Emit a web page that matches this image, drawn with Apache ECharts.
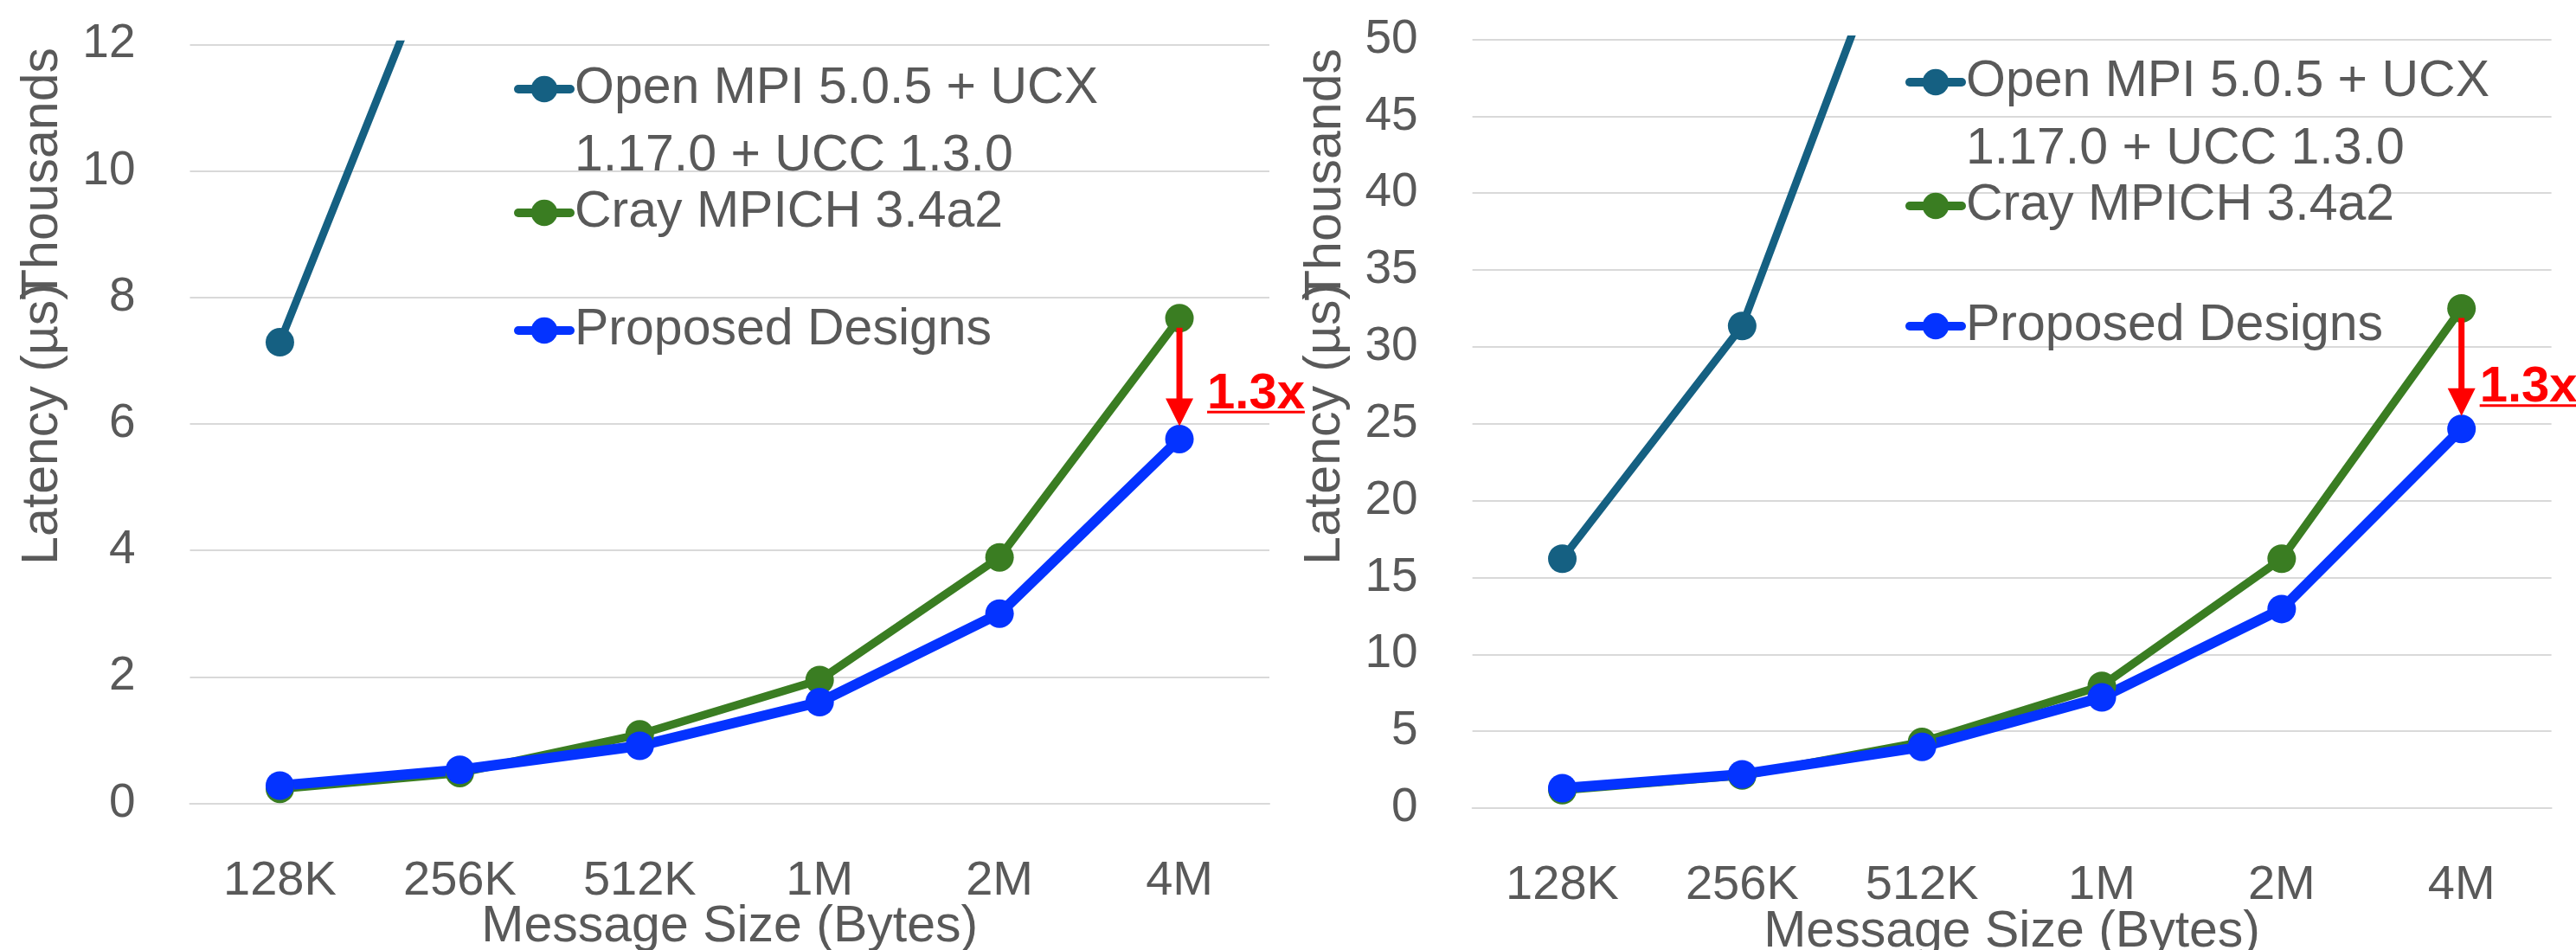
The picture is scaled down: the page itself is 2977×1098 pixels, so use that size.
<!DOCTYPE html>
<html>
<head>
<meta charset="utf-8">
<script src="https://cdn.jsdelivr.net/npm/echarts@6/dist/echarts.min.js"></script>
<style>
  html, body { margin: 0; padding: 0; background: #ffffff; }
  #chart { width: 2977px; height: 1098px; }
</style>
</head>
<body>
<div id="chart"></div>
<script>
// ---- data (latency in thousands of microseconds) ----
const sizes = ['128K', '256K', '512K', '1M', '2M', '4M'];
const nameOpen = 'Open MPI 5.0.5 + UCX\n1.17.0 + UCC 1.3.0';
const nameCray = 'Cray MPICH 3.4a2';
const nameProp = 'Proposed Designs';

// left panel
const openA = [7.29, 14.4, null, null, null, null];
const crayA = [0.23, 0.48, 1.09, 1.95, 3.89, 7.67];
const propA = [0.28, 0.53, 0.91, 1.60, 3.00, 5.76];
const yMaxA = 12, yStepA = 2;

// right panel
const openB = [16.22, 31.36, 62.4, null, null, null];
const crayB = [1.17, 2.12, 4.30, 7.95, 16.22, 32.5];
const propB = [1.30, 2.20, 3.98, 7.20, 12.95, 24.66];
const yMaxB = 50, yStepB = 5;

// ---- styling ----
const FONT = '"Liberation Sans", Arial, sans-serif';
const TEXT = '#595959';
const GRID = '#d9d9d9';
const C_OPEN = '#156082';
const C_CRAY = '#3a7d22';
const C_PROP = '#0433ff';
const RED = '#ff0000';

const measureCtx = document.createElement('canvas').getContext('2d');
function textWidth(str, font) {
  measureCtx.font = font;
  return measureCtx.measureText(str).width;
}

function xAxisFor(gi) {
  return {
    type: 'category', gridIndex: gi, data: sizes, boundaryGap: true,
    axisTick: { show: false },
    axisLine: { show: true, lineStyle: { color: GRID, width: 2 } },
    axisLabel: { color: TEXT, fontSize: 56, fontFamily: FONT, margin: 62 },
    name: 'Message Size (Bytes)', nameLocation: 'middle', nameGap: 114, nameMoveOverlap: false,
    nameTextStyle: { color: TEXT, fontSize: 59, fontFamily: FONT }
  };
}
function yAxisFor(gi, max, step) {
  return {
    type: 'value', gridIndex: gi, min: 0, max: max, interval: step,
    axisLine: { show: false }, axisTick: { show: false },
    splitLine: { lineStyle: { color: GRID, width: 2 } },
    axisLabel: { color: TEXT, fontSize: 55, fontFamily: FONT, margin: 63 },
    name: 'Latency (µs)', nameLocation: 'middle', nameRotate: 90, nameGap: 140, nameMoveOverlap: false,
    nameTextStyle: { color: TEXT, fontSize: 59, fontFamily: FONT }
  };
}
function lineSeries(name, data, color, width, gi) {
  return {
    type: 'line', name: name, data: data, xAxisIndex: gi, yAxisIndex: gi,
    symbol: 'circle', symbolSize: 33, showSymbol: true, connectNulls: false,
    lineStyle: { color: color, width: width, cap: 'round', join: 'round' },
    itemStyle: { color: color },
    clip: true, silent: true, animation: false
  };
}

// red arrow from the Cray point down to the proposed point, with the speedup ratio
function ratioArrow(gi, hi, lo, textDx, textDy) {
  const idx = hi.length - 1;
  return {
    type: 'custom', xAxisIndex: gi, yAxisIndex: gi, z: 10, silent: true, animation: false,
    data: [[idx, hi[idx], lo[idx]]],
    encode: { x: 0, y: [1, 2] },
    renderItem: function (params, api) {
      const xi = api.value(0);
      const pHi = api.coord([xi, api.value(1)]);
      const pLo = api.coord([xi, api.value(2)]);
      const x = pHi[0];
      const y0 = pHi[1] + 11;
      const tipY = pLo[1] - 15;
      const headH = 32, headW = 32, shaft = 7;
      const label = (api.value(1) / api.value(2)).toFixed(1) + 'x';
      const font = 'bold 58px ' + FONT;
      const w = textWidth(label, font);
      const tx = x + textDx;
      const ty = (pHi[1] + pLo[1]) / 2 + textDy;
      return {
        type: 'group',
        children: [
          { type: 'rect', shape: { x: x - shaft / 2, y: y0, width: shaft, height: tipY - headH - y0 + 1 }, style: { fill: RED } },
          { type: 'polygon', shape: { points: [[x - headW / 2, tipY - headH], [x + headW / 2, tipY - headH], [x, tipY]] }, style: { fill: RED } },
          { type: 'text', x: tx, y: ty, style: { text: label, font: font, fill: RED, align: 'left', verticalAlign: 'middle' } },
          { type: 'rect', shape: { x: tx, y: ty + 19, width: w, height: 3 }, style: { fill: RED } }
        ]
      };
    }
  };
}

// one legend block per entry; a wrapped name keeps its symbol beside the first line
function legendItem(name, left, top) {
  return {
    data: [name], left: left, top: top, orient: 'vertical', padding: 0,
    itemWidth: 60, itemHeight: 38, selectedMode: false,
    lineStyle: { width: 10, cap: 'round' },
    formatter: function (n) { return n.indexOf('\n') >= 0 ? '\n' + n : n; },
    textStyle: { color: TEXT, fontSize: 59, fontFamily: FONT, lineHeight: 78 }
  };
}

const chart = echarts.init(document.getElementById('chart'), null, { renderer: 'canvas', width: 2977, height: 1098 });

chart.setOption({
  backgroundColor: '#ffffff',
  animation: false,
  grid: [
    { left: 219.5, top: 51.3, width: 1247.5, height: 877.2, outerBoundsMode: 'none', containLabel: false },
    { left: 1701.6, top: 45.5, width: 1247, height: 888.5, outerBoundsMode: 'none', containLabel: false }
  ],
  xAxis: [xAxisFor(0), xAxisFor(1)],
  yAxis: [yAxisFor(0, yMaxA, yStepA), yAxisFor(1, yMaxB, yStepB)],
  legend: [
    legendItem(nameOpen, 594, -14),
    legendItem(nameCray, 594, 207),
    legendItem(nameProp, 594, 343),
    legendItem(nameOpen, 2202, -22),
    legendItem(nameCray, 2202, 199),
    legendItem(nameProp, 2202, 338)
  ],
  graphic: [
    { type: 'text', x: 50, y: 201, rotation: Math.PI / 2, style: { text: 'Thousands', font: '59px ' + FONT, fill: TEXT, align: 'center', verticalAlign: 'middle' } },
    { type: 'text', x: 1533, y: 202, rotation: Math.PI / 2, style: { text: 'Thousands', font: '59px ' + FONT, fill: TEXT, align: 'center', verticalAlign: 'middle' } }
  ],
  series: [
    lineSeries(nameOpen, openA, C_OPEN, 9, 0),
    lineSeries(nameCray, crayA, C_CRAY, 9.5, 0),
    lineSeries(nameProp, propA, C_PROP, 12, 0),
    ratioArrow(0, crayA, propA, 32, 18),
    lineSeries(nameOpen, openB, C_OPEN, 9, 1),
    lineSeries(nameCray, crayB, C_CRAY, 9.5, 1),
    lineSeries(nameProp, propB, C_PROP, 12, 1),
    ratioArrow(1, crayB, propB, 21, 22)
  ]
});
</script>
</body>
</html>
